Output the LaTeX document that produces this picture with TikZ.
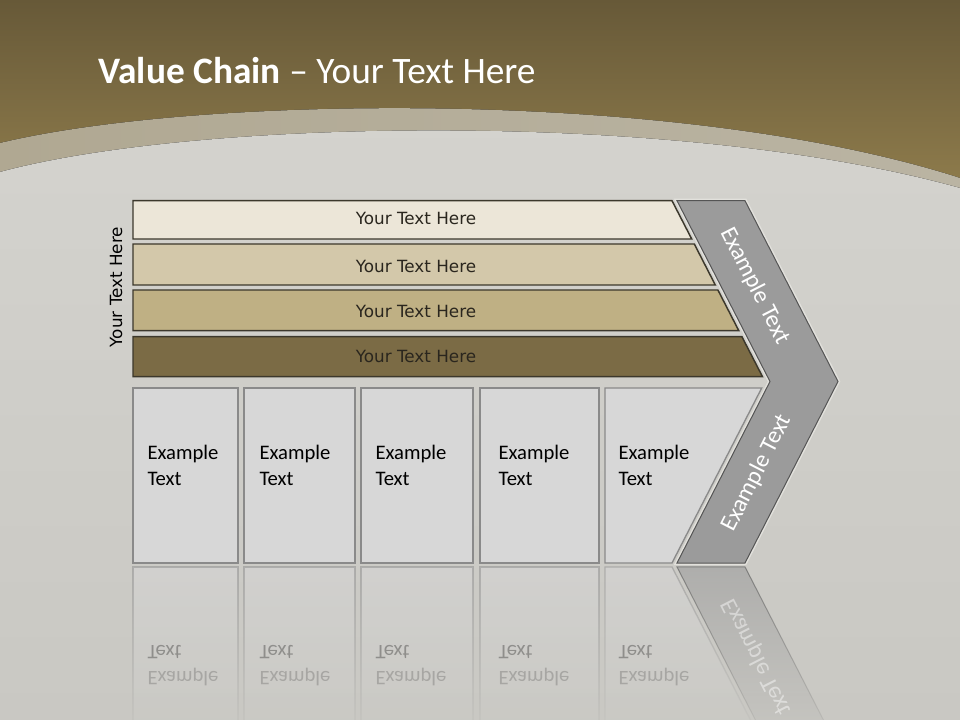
\documentclass[tikz,border=0pt]{standalone}
\usepackage{fontspec}
\usepackage{graphicx}
\setmainfont{Carlito}
\newfontfamily\dejavu{DejaVu Sans}
\usetikzlibrary{fadings}

\definecolor{brownTop}{RGB}{103,89,56}
\definecolor{brownBot}{RGB}{145,126,77}
\definecolor{bandL}{RGB}{176,168,146}
\definecolor{bandR}{RGB}{186,180,163}
\definecolor{bgLight}{RGB}{212,211,206}
\definecolor{bgDark}{RGB}{201,200,195}
\definecolor{barA}{RGB}{236,230,216}
\definecolor{barB}{RGB}{211,200,170}
\definecolor{barC}{RGB}{191,176,132}
\definecolor{barD}{RGB}{123,107,69}
\definecolor{barLine}{RGB}{60,56,44}
\definecolor{barText}{RGB}{42,38,30}
\definecolor{chevFill}{RGB}{155,155,155}
\definecolor{chevLine}{RGB}{85,85,85}
\definecolor{chevGlow}{RGB}{226,225,220}
\definecolor{boxFill}{RGB}{215,215,215}
\definecolor{boxLine}{RGB}{138,138,138}

\newcommand\barfont{\dejavu\fontsize{12.6}{15}\selectfont}
\newcommand\boxfont{\fontsize{15.5}{19.5}\selectfont}
\newcommand\chevfont{\fontsize{18}{22}\selectfont}

\tikzset{every picture/.style={line width=0.75pt}}

\begin{document}
\begin{tikzpicture}[x=0.75pt,y=0.75pt,yscale=-1,xscale=1]
	\useasboundingbox (0,0) rectangle (960,720);

	%Shape: Header [id:hdr]
	\fill [top color=brownTop, bottom color=brownBot] (0,0) rectangle (960,200) ;
	%Shape: Band [id:band]
	\fill [left color=bandL, right color=bandR] (0,143) .. controls (200,95) and (680,88) .. (960,178) -- (960,220) -- (0,220) -- cycle ;
	%Shape: Slide body [id:body]
	\fill [top color=bgLight, bottom color=bgDark] (0,172) .. controls (200,118) and (680,110) .. (960,188) -- (960,720) -- (0,720) -- cycle ;

	%Shape: Bar 1 [id:bar1]
	\draw  [color=barLine, line width=1.1, fill=barA] (133,200.7) -- (672,200.7) -- (691.7,239) -- (133,239) -- cycle ;
	%Shape: Bar 2 [id:bar2]
	\draw  [color=barLine, line width=1.1, fill=barB] (133,244) -- (694.3,244) -- (715.3,285) -- (133,285) -- cycle ;
	%Shape: Bar 3 [id:bar3]
	\draw  [color=barLine, line width=1.1, fill=barC] (133,290) -- (717.9,290) -- (738.8,330.7) -- (133,330.7) -- cycle ;
	%Shape: Bar 4 [id:bar4]
	\draw  [color=barLine, line width=1.1, fill=barD] (133,336.7) -- (741.9,336.7) -- (762.5,376.7) -- (133,376.7) -- cycle ;

	%Shape: Chevron [id:chev]
	\draw  [color=chevGlow, line width=3] (677,200.7) -- (745,200.7) -- (838,381.5) -- (745,563) -- (677,563) -- (770,381.5) -- cycle ;
	\draw  [color=chevLine, fill=chevFill] (677,200.7) -- (745,200.7) -- (838,381.5) -- (745,563) -- (677,563) -- (770,381.5) -- cycle ;

	%Shape: Box 1 [id:box1]
	\draw  [color=boxLine, line width=1, fill=boxFill] (133,388) -- (238,388) -- (238,563) -- (133,563) -- cycle ;
	%Shape: Box 2 [id:box2]
	\draw  [color=boxLine, line width=1, fill=boxFill] (244,388) -- (355,388) -- (355,563) -- (244,563) -- cycle ;
	%Shape: Box 3 [id:box3]
	\draw  [color=boxLine, line width=1, fill=boxFill] (361,388) -- (473,388) -- (473,563) -- (361,563) -- cycle ;
	%Shape: Box 4 [id:box4]
	\draw  [color=boxLine, line width=1, fill=boxFill] (480,388) -- (599,388) -- (599,563) -- (480,563) -- cycle ;
	%Shape: Box 5 [id:box5]
	\draw  [color=boxLine, line width=1, fill=boxFill] (605,388) -- (761.7,388) -- (672,563) -- (605,563) -- cycle ;

	%Shape: Reflections [id:refl]
	\draw  [color=boxLine, line width=1, fill=boxFill, opacity=0.5, path fading=south] (133,567) -- (238,567) -- (238,742) -- (133,742) -- cycle ;
	\draw  [color=boxLine, line width=1, fill=boxFill, opacity=0.5, path fading=south] (244,567) -- (355,567) -- (355,742) -- (244,742) -- cycle ;
	\draw  [color=boxLine, line width=1, fill=boxFill, opacity=0.5, path fading=south] (361,567) -- (473,567) -- (473,742) -- (361,742) -- cycle ;
	\draw  [color=boxLine, line width=1, fill=boxFill, opacity=0.5, path fading=south] (480,567) -- (599,567) -- (599,742) -- (480,742) -- cycle ;
	\draw  [color=boxLine, line width=1, fill=boxFill, opacity=0.5, path fading=south] (605,567) -- (672,567) -- (761.7,742) -- (605,742) -- cycle ;
	\draw  [color=chevLine, fill=chevFill, opacity=0.6, path fading=south] (677,567) -- (745,567) -- (838,748.5) -- (770,748.5) -- cycle ;

	% Text Node
	\draw (98,84) node [anchor=base west, inner sep=0, white, font=\fontsize{28}{33}\selectfont] (title) {\textbf{Value Chain} – Your Text Here};
	% Text Node
	\draw (116,287) node [rotate=90, black, font=\barfont] (side) {Your Text Here};
	% Text Node
	\draw (416,224.5) node [anchor=base, barText, font=\barfont] (bar1txt) {Your Text Here};
	% Text Node
	\draw (416,272.5) node [anchor=base, barText, font=\barfont] (bar2txt) {Your Text Here};
	% Text Node
	\draw (416,317.5) node [anchor=base, barText, font=\barfont] (bar3txt) {Your Text Here};
	% Text Node
	\draw (416,362.5) node [anchor=base, barText, font=\barfont] (bar4txt) {Your Text Here};
	% Text Node
	\draw (755,286) node [rotate=-63, white, font=\chevfont] (chevtop) {Example Text};
	% Text Node
	\draw (757,473) node [rotate=63, white, font=\chevfont] (chevbot) {Example Text};
	% Text Node
	\draw (147,485.3) node [anchor=base west, inner sep=0, align=left, font=\boxfont] (box1txt) {Example\\Text};
	% Text Node
	\draw (259,485.3) node [anchor=base west, inner sep=0, align=left, font=\boxfont] (box2txt) {Example\\Text};
	% Text Node
	\draw (375,485.3) node [anchor=base west, inner sep=0, align=left, font=\boxfont] (box3txt) {Example\\Text};
	% Text Node
	\draw (498,485.3) node [anchor=base west, inner sep=0, align=left, font=\boxfont] (box4txt) {Example\\Text};
	% Text Node
	\draw (618,485.3) node [anchor=base west, inner sep=0, align=left, font=\boxfont] (box5txt) {Example\\Text};

	% Text Node (mirrored)
	\draw (147,645) node [anchor=base west, inner sep=0, black, text opacity=0.3, font=\boxfont] (box1mt) {\scalebox{1}[-1]{Text}};
	\draw (147,671) node [anchor=base west, inner sep=0, black, text opacity=0.18, font=\boxfont] (box1me) {\scalebox{1}[-1]{Example}};
	\draw (259,645) node [anchor=base west, inner sep=0, black, text opacity=0.3, font=\boxfont] (box2mt) {\scalebox{1}[-1]{Text}};
	\draw (259,671) node [anchor=base west, inner sep=0, black, text opacity=0.18, font=\boxfont] (box2me) {\scalebox{1}[-1]{Example}};
	\draw (375,645) node [anchor=base west, inner sep=0, black, text opacity=0.3, font=\boxfont] (box3mt) {\scalebox{1}[-1]{Text}};
	\draw (375,671) node [anchor=base west, inner sep=0, black, text opacity=0.18, font=\boxfont] (box3me) {\scalebox{1}[-1]{Example}};
	\draw (498,645) node [anchor=base west, inner sep=0, black, text opacity=0.3, font=\boxfont] (box4mt) {\scalebox{1}[-1]{Text}};
	\draw (498,671) node [anchor=base west, inner sep=0, black, text opacity=0.18, font=\boxfont] (box4me) {\scalebox{1}[-1]{Example}};
	\draw (618,645) node [anchor=base west, inner sep=0, black, text opacity=0.3, font=\boxfont] (box5mt) {\scalebox{1}[-1]{Text}};
	\draw (618,671) node [anchor=base west, inner sep=0, black, text opacity=0.18, font=\boxfont] (box5me) {\scalebox{1}[-1]{Example}};
	\draw (757,657) node [rotate=-63, white, text opacity=0.45, font=\chevfont] (chevmt) {\scalebox{1}[-1]{Example Text}};

\end{tikzpicture}
\end{document}
